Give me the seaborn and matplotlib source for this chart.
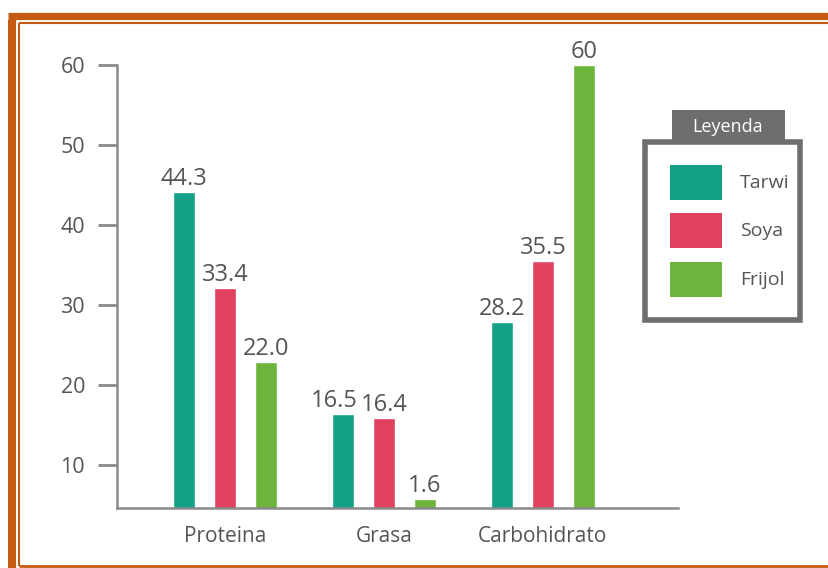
import matplotlib.pyplot as plt
import seaborn as sns
import pandas as pd
from matplotlib.lines import Line2D
from matplotlib.patches import Rectangle

# datos
nutrientes = ["Proteina", "Grasa", "Carbohidrato"]
leguminosas = ["Tarwi", "Soya", "Frijol"]
# altura de las barras tal como se ven en la imagen
tarwi = [44.1, 16.3, 27.8]
soya = [32.1, 15.8, 35.5]
frijol = [22.8, 5.7, 60.0]
# texto sobre cada barra
etq_tarwi = ["44.3", "16.5", "28.2"]
etq_soya = ["33.4", "16.4", "35.5"]
etq_frijol = ["22.0", "1.6", "60"]
colores = ["#13a084", "#e1405f", "#6cb43b"]

df = pd.DataFrame({
    "Nutriente": nutrientes * 3,
    "Leguminosa": [l for l in leguminosas for _ in nutrientes],
    "Valor": tarwi + soya + frijol,
})
etiquetas = [etq_tarwi, etq_soya, etq_frijol]

sns.set_style("white")
plt.rcParams["font.family"] = ["Open Sans", "DejaVu Sans"]

W, H = 829, 568
fig = plt.figure(figsize=(W / 100, H / 100), dpi=100)
ax = fig.add_axes([117 / W, 1 - 508 / H, (678 - 117) / W, (508 - 65) / H])

sns.barplot(data=df, x="Nutriente", y="Valor", hue="Leguminosa",
            order=nutrientes, hue_order=leguminosas, palette=colores,
            width=0.774, gap=0.46, saturation=1, legend=False, ax=ax)

gris = "#8a8a8a"
texto = "#555555"
textos = []
for cont, etq in zip(ax.containers, etiquetas):
    textos.append(ax.bar_label(cont, labels=etq, padding=1, fontsize=17, color=texto))
# en el original la etiqueta 16.5 va algo corrida a la izquierda
textos[0][1].xyann = (-6, 1)

ax.set_ylim(4.6, 60)
ax.set_xlim(-0.68, 2.85)
ax.set_yticks([10, 20, 30, 40, 50, 60])
ax.set_xlabel("")
ax.set_ylabel("")
for s in ["top", "right"]:
    ax.spines[s].set_visible(False)
for s in ["left", "bottom"]:
    ax.spines[s].set_color(gris)
    ax.spines[s].set_linewidth(1.8)
ax.tick_params(axis="y", length=14, width=2, color=gris, pad=9,
               labelsize=15.5, labelcolor=texto, left=True)
ax.tick_params(axis="x", length=0, pad=13, labelsize=15, labelcolor=texto)

# leyenda dibujada como recuadro
def fx(x):
    return x / W

def fy(y):
    return 1 - y / H

borde = "#6e6e6e"
fig.add_artist(Rectangle((fx(645), fy(320)), fx(800) - fx(645), fy(142) - fy(320),
                         transform=fig.transFigure, fill=False,
                         edgecolor=borde, linewidth=4))
fig.add_artist(Rectangle((fx(672), fy(142)), fx(785) - fx(672), fy(110) - fy(142),
                         transform=fig.transFigure, facecolor=borde,
                         edgecolor=borde, linewidth=0))
fig.text(fx(728), fy(127), "Leyenda", color="white", fontsize=13,
         ha="center", va="center")
tops = [165, 213, 262]
for t, nombre, c in zip(tops, leguminosas, colores):
    fig.add_artist(Rectangle((fx(670), fy(t + 35)), fx(722) - fx(670), fy(t) - fy(t + 35),
                             transform=fig.transFigure, facecolor=c, linewidth=0))
    fig.text(fx(740), fy(t + 18), nombre, color=texto, fontsize=14,
             ha="left", va="center")

# marco naranja
naranja = "#c55a11"
fig.add_artist(Line2D([fx(12), fx(12)], [fy(20), 0], color=naranja, lw=5.8,
                      transform=fig.transFigure, solid_capstyle="butt"))
fig.add_artist(Line2D([fx(8), 1], [fy(15.5), fy(15.5)], color=naranja, lw=5.2,
                      transform=fig.transFigure, solid_capstyle="butt"))
fig.add_artist(Line2D([fx(19), fx(19)], [fy(23), fy(566)], color=naranja, lw=1.5,
                      transform=fig.transFigure, solid_capstyle="butt"))
fig.add_artist(Line2D([fx(19), 1], [fy(23), fy(23)], color=naranja, lw=1.5,
                      transform=fig.transFigure, solid_capstyle="butt"))
fig.add_artist(Line2D([fx(19), 1], [fy(566), fy(566)], color=naranja, lw=2,
                      transform=fig.transFigure, solid_capstyle="butt"))

fig.savefig("out.png", dpi=100, facecolor="white")
